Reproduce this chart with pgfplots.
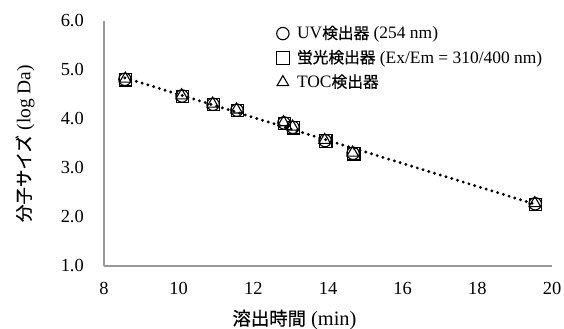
\documentclass[border=0pt]{standalone}
\usepackage{fontspec}
\setmainfont{Liberation Serif}
\newfontfamily\jpf[FakeBold=0.6, Scale=0.9]{Noto Sans CJK JP}
\usepackage{pgfplots}
\pgfplotsset{compat=1.18}
\begin{document}
\fontsize{18}{21}\selectfont
\begin{tikzpicture}
\begin{axis}[
  scale only axis, width=448bp, height=245bp,
  xmin=8, xmax=20, ymin=1, ymax=6,
  xtick={8,10,...,20}, ytick={1,2,...,6},
  yticklabel style={/pgf/number format/fixed, /pgf/number format/fixed zerofill, /pgf/number format/precision=1},
  /pgf/number format/assume math mode=true,
  ticklabel style={font=\fontsize{18.5}{21}\selectfont},
  major tick length=0pt,
  axis x line*=bottom, axis y line*=left,
  axis line style={draw=gray!80, line width=1.2bp, -},
  xticklabel style={yshift=-10bp},
  yticklabel style={xshift=-14bp},
  xlabel={{\jpf 溶出時間} (min)},
  ylabel={{\jpf 分子サイズ} (log Da)},
  xlabel style={font=\fontsize{20.5}{22}\selectfont, yshift=-3bp, xshift=-33.5bp},
  ylabel style={font=\fontsize{19.5}{21}\selectfont, yshift=14bp},
  legend style={at={(0.385,0.99)}, anchor=north west, draw=none, fill=none,
    font=\fontsize{17.5}{20}\selectfont, row sep=4.5bp, inner sep=0pt},
  legend cell align=left,
  clip=false,
]
\addplot[only marks, mark=o, mark size=6.2bp, black, line width=1.1bp] coordinates {
(8.56,4.81) (10.09,4.47) (10.92,4.30) (11.56,4.18) (12.82,3.92) (13.06,3.83) (13.92,3.56) (14.67,3.30) (19.55,2.27)};
\addlegendentry{\hspace*{6bp}UV{\jpf 検出器} (254 nm)}
\addplot[only marks, mark=square, mark size=6.2bp, black, line width=1.1bp] coordinates {
(8.58,4.80) (10.10,4.46) (10.93,4.30) (11.57,4.17) (12.84,3.91) (13.08,3.82) (13.94,3.55) (14.69,3.29) (19.56,2.26)};
\addlegendentry{\hspace*{6bp}{\jpf 蛍光検出器} (Ex/Em = 310/400 nm)}
\addplot[only marks, mark=triangle, mark size=6.7bp, black, line width=1.1bp] coordinates {
(8.57,4.82) (10.08,4.48) (10.91,4.31) (11.55,4.19) (12.81,3.93) (13.05,3.84) (13.91,3.57) (14.66,3.31) (19.54,2.28)};
\addlegendentry{\hspace*{6bp}TOC{\jpf 検出器}}
\addplot[black, line width=3.2bp, line cap=round, dash pattern=on 0pt off 6bp, forget plot] coordinates {(8.56,4.84) (19.55,2.26)};
\end{axis}
\pgfresetboundingbox
\path ([shift={(-104bp,-63bp)}]current axis.south west) rectangle ([shift={(12bp,21bp)}]current axis.north east);
\end{tikzpicture}
\end{document}
